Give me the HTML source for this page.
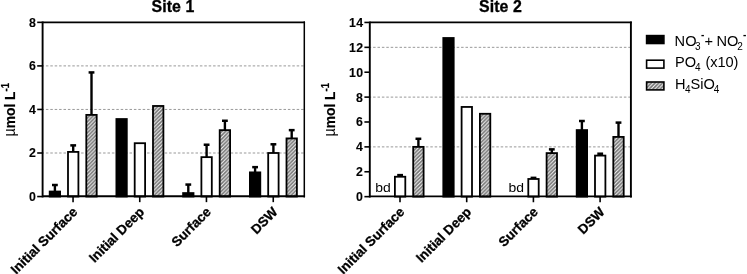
<!DOCTYPE html>
<html><head><meta charset="utf-8"><title>Nutrients</title>
<style>html,body{margin:0;padding:0;background:#fff;overflow:hidden}</style>
</head><body>
<svg width="747" height="274" viewBox="0 0 747 274" style="display:block;font-family:'Liberation Sans', Arial, sans-serif" fill="#000">
<defs>
<pattern id="hatch" width="3.7" height="3.7" patternUnits="userSpaceOnUse">
<rect width="3.7" height="3.7" fill="#727272"/>
<path d="M-3.7,3.7 L3.7,-3.7 M-3.7,7.4 L7.4,-3.7 M0,7.4 L7.4,0" stroke="#f6f6f6" stroke-width="1.1" fill="none"/>
</pattern>
</defs>
<rect width="747" height="274" fill="#fff"/>
<line x1="42.6" x2="304.3" y1="153.00" y2="153.00" stroke="#999" stroke-width="1" stroke-dasharray="2.5 1.9" stroke-dashoffset="1.1"/>
<line x1="42.6" x2="304.3" y1="109.45" y2="109.45" stroke="#999" stroke-width="1" stroke-dasharray="2.5 1.9" stroke-dashoffset="1.1"/>
<line x1="42.6" x2="304.3" y1="65.90" y2="65.90" stroke="#999" stroke-width="1" stroke-dasharray="2.5 1.9" stroke-dashoffset="1.1"/>
<line x1="54.90" x2="54.90" y1="191.54" y2="185.01" stroke="#000" stroke-width="2.4"/>
<line x1="52.00" x2="57.80" y1="185.01" y2="185.01" stroke="#000" stroke-width="2.5"/>
<rect x="49.70" y="191.54" width="10.4" height="5.01" fill="#000" stroke="#000" stroke-width="1.8"/>
<line x1="73.20" x2="73.20" y1="151.91" y2="145.38" stroke="#000" stroke-width="2.4"/>
<line x1="70.30" x2="76.10" y1="145.38" y2="145.38" stroke="#000" stroke-width="2.5"/>
<rect x="68.00" y="151.91" width="10.4" height="44.64" fill="#fff" stroke="#000" stroke-width="1.8"/>
<line x1="91.50" x2="91.50" y1="114.89" y2="72.43" stroke="#000" stroke-width="2.4"/>
<line x1="88.60" x2="94.40" y1="72.43" y2="72.43" stroke="#000" stroke-width="2.5"/>
<rect x="86.30" y="114.89" width="10.4" height="81.66" fill="url(#hatch)" stroke="#000" stroke-width="1.8"/>
<rect x="116.40" y="119.03" width="10.4" height="77.52" fill="#000" stroke="#000" stroke-width="1.8"/>
<rect x="134.70" y="143.20" width="10.4" height="53.35" fill="#fff" stroke="#000" stroke-width="1.8"/>
<rect x="153.00" y="105.97" width="10.4" height="90.58" fill="url(#hatch)" stroke="#000" stroke-width="1.8"/>
<line x1="188.30" x2="188.30" y1="193.07" y2="184.57" stroke="#000" stroke-width="2.4"/>
<line x1="185.40" x2="191.20" y1="184.57" y2="184.57" stroke="#000" stroke-width="2.5"/>
<rect x="183.10" y="193.07" width="10.4" height="3.48" fill="#000" stroke="#000" stroke-width="1.8"/>
<line x1="206.60" x2="206.60" y1="157.14" y2="144.73" stroke="#000" stroke-width="2.4"/>
<line x1="203.70" x2="209.50" y1="144.73" y2="144.73" stroke="#000" stroke-width="2.5"/>
<rect x="201.40" y="157.14" width="10.4" height="39.41" fill="#fff" stroke="#000" stroke-width="1.8"/>
<line x1="224.90" x2="224.90" y1="130.14" y2="120.77" stroke="#000" stroke-width="2.4"/>
<line x1="222.00" x2="227.80" y1="120.77" y2="120.77" stroke="#000" stroke-width="2.5"/>
<rect x="219.70" y="130.14" width="10.4" height="66.41" fill="url(#hatch)" stroke="#000" stroke-width="1.8"/>
<line x1="255.10" x2="255.10" y1="172.38" y2="167.15" stroke="#000" stroke-width="2.4"/>
<line x1="252.20" x2="258.00" y1="167.15" y2="167.15" stroke="#000" stroke-width="2.5"/>
<rect x="249.90" y="172.38" width="10.4" height="24.17" fill="#000" stroke="#000" stroke-width="1.8"/>
<line x1="273.40" x2="273.40" y1="153.00" y2="144.29" stroke="#000" stroke-width="2.4"/>
<line x1="270.50" x2="276.30" y1="144.29" y2="144.29" stroke="#000" stroke-width="2.5"/>
<rect x="268.20" y="153.00" width="10.4" height="43.55" fill="#fff" stroke="#000" stroke-width="1.8"/>
<line x1="291.70" x2="291.70" y1="138.41" y2="130.14" stroke="#000" stroke-width="2.4"/>
<line x1="288.80" x2="294.60" y1="130.14" y2="130.14" stroke="#000" stroke-width="2.5"/>
<rect x="286.50" y="138.41" width="10.4" height="58.14" fill="url(#hatch)" stroke="#000" stroke-width="1.8"/>
<line x1="42.6" x2="42.6" y1="21.450000000000003" y2="197.45000000000002" stroke="#000" stroke-width="1.9"/>
<line x1="42.6" x2="305.05" y1="22.35" y2="22.35" stroke="#000" stroke-width="1.8"/>
<line x1="42.6" x2="305.05" y1="196.25" y2="196.25" stroke="#000" stroke-width="1.9"/>
<line x1="304.3" x2="304.3" y1="21.450000000000003" y2="197.45000000000002" stroke="#000" stroke-width="1.5"/>
<line x1="37.2" x2="42.6" y1="196.55" y2="196.55" stroke="#000" stroke-width="1.6"/>
<text transform="translate(36.0,201.00) scale(0.9,1)" text-anchor="end" font-size="13.7" font-weight="bold" stroke="#000" stroke-width="0.12" letter-spacing="0.25">0</text>
<line x1="37.2" x2="42.6" y1="153.00" y2="153.00" stroke="#000" stroke-width="1.6"/>
<text transform="translate(36.0,157.45) scale(0.9,1)" text-anchor="end" font-size="13.7" font-weight="bold" stroke="#000" stroke-width="0.12" letter-spacing="0.25">2</text>
<line x1="37.2" x2="42.6" y1="109.45" y2="109.45" stroke="#000" stroke-width="1.6"/>
<text transform="translate(36.0,113.90) scale(0.9,1)" text-anchor="end" font-size="13.7" font-weight="bold" stroke="#000" stroke-width="0.12" letter-spacing="0.25">4</text>
<line x1="37.2" x2="42.6" y1="65.90" y2="65.90" stroke="#000" stroke-width="1.6"/>
<text transform="translate(36.0,70.35) scale(0.9,1)" text-anchor="end" font-size="13.7" font-weight="bold" stroke="#000" stroke-width="0.12" letter-spacing="0.25">6</text>
<line x1="37.2" x2="42.6" y1="22.35" y2="22.35" stroke="#000" stroke-width="1.6"/>
<text transform="translate(36.0,26.80) scale(0.9,1)" text-anchor="end" font-size="13.7" font-weight="bold" stroke="#000" stroke-width="0.12" letter-spacing="0.25">8</text>
<line x1="73.05" x2="73.05" y1="196.55" y2="202.15" stroke="#000" stroke-width="1.6"/>
<line x1="139.75" x2="139.75" y1="196.55" y2="202.15" stroke="#000" stroke-width="1.6"/>
<line x1="206.45" x2="206.45" y1="196.55" y2="202.15" stroke="#000" stroke-width="1.6"/>
<line x1="273.25" x2="273.25" y1="196.55" y2="202.15" stroke="#000" stroke-width="1.6"/>
<text x="173" y="11.6" text-anchor="middle" font-size="15.9" font-weight="bold" stroke="#000" stroke-width="0.3" letter-spacing="0.1">Site 1</text>
<line x1="369.8" x2="630.9" y1="146.88" y2="146.88" stroke="#999" stroke-width="1" stroke-dasharray="2.5 1.9" stroke-dashoffset="1.1"/>
<line x1="369.8" x2="630.9" y1="97.11" y2="97.11" stroke="#999" stroke-width="1" stroke-dasharray="2.5 1.9" stroke-dashoffset="1.1"/>
<line x1="369.8" x2="630.9" y1="47.34" y2="47.34" stroke="#999" stroke-width="1" stroke-dasharray="2.5 1.9" stroke-dashoffset="1.1"/>
<line x1="400.10" x2="400.10" y1="176.74" y2="175.12" stroke="#000" stroke-width="2.4"/>
<line x1="397.20" x2="403.00" y1="175.12" y2="175.12" stroke="#000" stroke-width="2.5"/>
<rect x="394.90" y="176.74" width="10.4" height="19.91" fill="#fff" stroke="#000" stroke-width="1.8"/>
<line x1="418.40" x2="418.40" y1="146.88" y2="138.79" stroke="#000" stroke-width="2.4"/>
<line x1="415.50" x2="421.30" y1="138.79" y2="138.79" stroke="#000" stroke-width="2.5"/>
<rect x="413.20" y="146.88" width="10.4" height="49.77" fill="url(#hatch)" stroke="#000" stroke-width="1.8"/>
<rect x="443.30" y="38.00" width="10.4" height="158.65" fill="#000" stroke="#000" stroke-width="1.8"/>
<rect x="461.60" y="106.94" width="10.4" height="89.71" fill="#fff" stroke="#000" stroke-width="1.8"/>
<rect x="479.90" y="113.78" width="10.4" height="82.87" fill="url(#hatch)" stroke="#000" stroke-width="1.8"/>
<line x1="533.50" x2="533.50" y1="178.98" y2="177.86" stroke="#000" stroke-width="2.4"/>
<line x1="530.60" x2="536.40" y1="177.86" y2="177.86" stroke="#000" stroke-width="2.5"/>
<rect x="528.30" y="178.98" width="10.4" height="17.67" fill="#fff" stroke="#000" stroke-width="1.8"/>
<line x1="551.80" x2="551.80" y1="153.10" y2="149.37" stroke="#000" stroke-width="2.4"/>
<line x1="548.90" x2="554.70" y1="149.37" y2="149.37" stroke="#000" stroke-width="2.5"/>
<rect x="546.60" y="153.10" width="10.4" height="43.55" fill="url(#hatch)" stroke="#000" stroke-width="1.8"/>
<line x1="581.90" x2="581.90" y1="130.08" y2="121.00" stroke="#000" stroke-width="2.4"/>
<line x1="579.00" x2="584.80" y1="121.00" y2="121.00" stroke="#000" stroke-width="2.5"/>
<rect x="576.70" y="130.08" width="10.4" height="66.57" fill="#000" stroke="#000" stroke-width="1.8"/>
<line x1="600.20" x2="600.20" y1="155.59" y2="153.72" stroke="#000" stroke-width="2.4"/>
<line x1="597.30" x2="603.10" y1="153.72" y2="153.72" stroke="#000" stroke-width="2.5"/>
<rect x="595.00" y="155.59" width="10.4" height="41.06" fill="#fff" stroke="#000" stroke-width="1.8"/>
<line x1="618.50" x2="618.50" y1="136.92" y2="122.61" stroke="#000" stroke-width="2.4"/>
<line x1="615.60" x2="621.40" y1="122.61" y2="122.61" stroke="#000" stroke-width="2.5"/>
<rect x="613.30" y="136.92" width="10.4" height="59.73" fill="url(#hatch)" stroke="#000" stroke-width="1.8"/>
<line x1="369.8" x2="369.8" y1="21.55" y2="197.55" stroke="#000" stroke-width="1.9"/>
<line x1="369.8" x2="631.85" y1="22.45" y2="22.45" stroke="#000" stroke-width="1.8"/>
<line x1="369.8" x2="631.85" y1="196.35" y2="196.35" stroke="#000" stroke-width="1.9"/>
<line x1="630.9" x2="630.9" y1="21.55" y2="197.55" stroke="#000" stroke-width="1.9"/>
<line x1="364.40000000000003" x2="369.8" y1="196.65" y2="196.65" stroke="#000" stroke-width="1.6"/>
<text transform="translate(363.2,201.10) scale(0.9,1)" text-anchor="end" font-size="13.7" font-weight="bold" stroke="#000" stroke-width="0.12" letter-spacing="0.25">0</text>
<line x1="364.40000000000003" x2="369.8" y1="171.76" y2="171.76" stroke="#000" stroke-width="1.6"/>
<text transform="translate(363.2,176.21) scale(0.9,1)" text-anchor="end" font-size="13.7" font-weight="bold" stroke="#000" stroke-width="0.12" letter-spacing="0.25">2</text>
<line x1="364.40000000000003" x2="369.8" y1="146.88" y2="146.88" stroke="#000" stroke-width="1.6"/>
<text transform="translate(363.2,151.33) scale(0.9,1)" text-anchor="end" font-size="13.7" font-weight="bold" stroke="#000" stroke-width="0.12" letter-spacing="0.25">4</text>
<line x1="364.40000000000003" x2="369.8" y1="121.99" y2="121.99" stroke="#000" stroke-width="1.6"/>
<text transform="translate(363.2,126.44) scale(0.9,1)" text-anchor="end" font-size="13.7" font-weight="bold" stroke="#000" stroke-width="0.12" letter-spacing="0.25">6</text>
<line x1="364.40000000000003" x2="369.8" y1="97.11" y2="97.11" stroke="#000" stroke-width="1.6"/>
<text transform="translate(363.2,101.56) scale(0.9,1)" text-anchor="end" font-size="13.7" font-weight="bold" stroke="#000" stroke-width="0.12" letter-spacing="0.25">8</text>
<line x1="364.40000000000003" x2="369.8" y1="72.22" y2="72.22" stroke="#000" stroke-width="1.6"/>
<text transform="translate(363.2,76.67) scale(0.9,1)" text-anchor="end" font-size="13.7" font-weight="bold" stroke="#000" stroke-width="0.12" letter-spacing="0.25">10</text>
<line x1="364.40000000000003" x2="369.8" y1="47.34" y2="47.34" stroke="#000" stroke-width="1.6"/>
<text transform="translate(363.2,51.79) scale(0.9,1)" text-anchor="end" font-size="13.7" font-weight="bold" stroke="#000" stroke-width="0.12" letter-spacing="0.25">12</text>
<line x1="364.40000000000003" x2="369.8" y1="22.45" y2="22.45" stroke="#000" stroke-width="1.6"/>
<text transform="translate(363.2,26.90) scale(0.9,1)" text-anchor="end" font-size="13.7" font-weight="bold" stroke="#000" stroke-width="0.12" letter-spacing="0.25">14</text>
<line x1="400.0" x2="400.0" y1="196.65" y2="202.25" stroke="#000" stroke-width="1.6"/>
<line x1="466.7" x2="466.7" y1="196.65" y2="202.25" stroke="#000" stroke-width="1.6"/>
<line x1="533.4" x2="533.4" y1="196.65" y2="202.25" stroke="#000" stroke-width="1.6"/>
<line x1="600.1" x2="600.1" y1="196.65" y2="202.25" stroke="#000" stroke-width="1.6"/>
<text x="500.5" y="11.6" text-anchor="middle" font-size="15.9" font-weight="bold" stroke="#000" stroke-width="0.3" letter-spacing="0.1">Site 2</text>
<text transform="translate(382.9,191.7) scale(1.09,1)" text-anchor="middle" font-size="12.8">bd</text>
<text transform="translate(516.3,191.7) scale(1.09,1)" text-anchor="middle" font-size="12.8">bd</text>
<text transform="translate(78.3,212.8) rotate(-45)" text-anchor="end" font-size="13.4" font-weight="bold" stroke="#000" stroke-width="0.3">Initial Surface</text>
<text transform="translate(145.0,212.8) rotate(-45)" text-anchor="end" font-size="13.4" font-weight="bold" stroke="#000" stroke-width="0.3">Initial Deep</text>
<text transform="translate(211.7,212.8) rotate(-45)" text-anchor="end" font-size="13.4" font-weight="bold" stroke="#000" stroke-width="0.3">Surface</text>
<text transform="translate(278.5,212.8) rotate(-45)" text-anchor="end" font-size="13.4" font-weight="bold" stroke="#000" stroke-width="0.3">DSW</text>
<text transform="translate(405.3,212.8) rotate(-45)" text-anchor="end" font-size="13.4" font-weight="bold" stroke="#000" stroke-width="0.3">Initial Surface</text>
<text transform="translate(472.0,212.8) rotate(-45)" text-anchor="end" font-size="13.4" font-weight="bold" stroke="#000" stroke-width="0.3">Initial Deep</text>
<text transform="translate(538.6999999999999,212.8) rotate(-45)" text-anchor="end" font-size="13.4" font-weight="bold" stroke="#000" stroke-width="0.3">Surface</text>
<text transform="translate(605.4,212.8) rotate(-45)" text-anchor="end" font-size="13.4" font-weight="bold" stroke="#000" stroke-width="0.3">DSW</text>
<text transform="translate(15.2,109.7) rotate(-90) scale(0.905,1)" text-anchor="middle" font-size="15.3" font-weight="bold" stroke="#000" stroke-width="0.2"><tspan font-weight="normal" stroke="none" font-size="15.6">µ</tspan>mol L<tspan dy="-5.8" font-size="10.6">-1</tspan></text>
<text transform="translate(335.0,109.7) rotate(-90) scale(0.905,1)" text-anchor="middle" font-size="15.3" font-weight="bold" stroke="#000" stroke-width="0.2"><tspan font-weight="normal" stroke="none" font-size="15.6">µ</tspan>mol L<tspan dy="-5.8" font-size="10.6">-1</tspan></text>
<rect x="646.6" y="35.6" width="17.3" height="7.9" fill="#000" stroke="#000" stroke-width="1.6"/>
<rect x="646.6" y="60.2" width="17.3" height="7.9" fill="#fff" stroke="#000" stroke-width="1.6"/>
<rect x="646.6" y="82.0" width="17.3" height="7.9" fill="url(#hatch)" stroke="#000" stroke-width="1.6"/>
<text x="674.6" y="45.5" font-size="14.6">NO<tspan dx="-1.4" dy="4.2" font-size="10">3</tspan><tspan dx="0.3" dy="-11.4" font-size="10" font-weight="bold">-</tspan><tspan dy="7.2" dx="0.2" font-size="14.6">+</tspan><tspan dx="-0.6"> </tspan>NO<tspan dx="-1.2" dy="4.2" font-size="10">2</tspan><tspan dx="0.3" dy="-11.4" font-size="10" font-weight="bold">-</tspan></text>
<text x="675" y="67.4" font-size="14.6">PO<tspan dx="-1.2" dy="4.0" font-size="10">4</tspan><tspan dx="1.2" dy="-4.0" font-size="14.6" letter-spacing="-0.12"> (x10)</tspan></text>
<text x="675" y="89.2" font-size="14.6">H<tspan dx="-0.5" dy="4.2" font-size="10">4</tspan><tspan dy="-4.2" font-size="14.6">SiO</tspan><tspan dx="-1.2" dy="4.2" font-size="10">4</tspan></text>
</svg>
</body></html>
